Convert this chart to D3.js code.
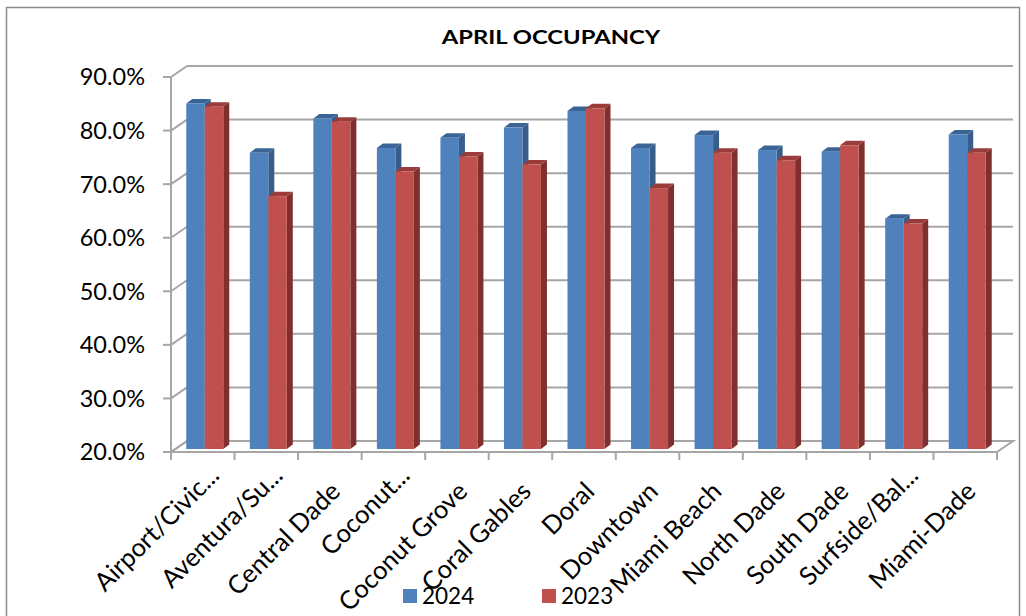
<!DOCTYPE html>
<html>
<head>
<meta charset="utf-8">
<script src="https://cdn.jsdelivr.net/npm/d3@7"></script>
<style>
  body { margin: 0; background: #fff; }
  svg text { font-family: Lato, "Liberation Sans", sans-serif; fill: #000; }
</style>
</head>
<body>
<div id="chart"></div>
<script>
// data
const categories = ["Airport/Civic...", "Aventura/Su...", "Central Dade", "Coconut...", "Coconut Grove",
  "Coral Gables", "Doral", "Downtown", "Miami Beach", "North Dade", "South Dade", "Surfside/Bal...", "Miami-Dade"];
const occ2024 = [84.5, 75.3, 81.7, 76.2, 78.1, 80.0, 83.1, 76.2, 78.6, 75.8, 75.5, 63.0, 78.7];
const occ2023 = [83.9, 67.2, 81.1, 71.8, 74.6, 73.1, 83.6, 68.7, 75.3, 73.9, 76.7, 62.1, 75.3];
const yTicks = [20, 30, 40, 50, 60, 70, 80, 90];
const seriesNames = ["2024", "2023"];

const W = 1026, H = 616;
const svg = d3.select("#chart").append("svg").attr("width", W).attr("height", H);

// outer border
svg.append("rect").attr("x", 6.5).attr("y", 7.5).attr("width", 1013).attr("height", 620)
  .attr("fill", "#fff").attr("stroke", "#8c8c8c").attr("stroke-width", 1.5);

// front plane of plot
const x0 = 171, x1 = 997, yTop = 77, yBot = 452;
const depth = { dx: 16, dy: -11 };     // wall depth
const barOff = { dx: 4, dy: -3 };      // bar front plane
const barDepth = { dx: 6, dy: -4.5 };  // bar thickness

const xScale = d3.scaleBand().domain(categories).range([x0, x1]);
const yScale = d3.scaleLinear().domain([20, 90]).range([yBot, yTop]);

const grid = "#a6a6a6";

// back wall gridlines + side wall diagonals
yTicks.forEach(t => {
  const y = yScale(t);
  svg.append("line").attr("x1", x0 + depth.dx).attr("x2", x1 + depth.dx)
    .attr("y1", y + depth.dy).attr("y2", y + depth.dy)
    .attr("stroke", grid).attr("stroke-width", 2);
  svg.append("line").attr("x1", x0).attr("y1", y).attr("x2", x0 + depth.dx).attr("y2", y + depth.dy)
    .attr("stroke", grid).attr("stroke-width", 2);
});

// floor
svg.append("path")
  .attr("d", `M${x0},${yBot} L${x0 + depth.dx},${yBot + depth.dy} L${x1 + depth.dx},${yBot + depth.dy} L${x1},${yBot} Z`)
  .attr("fill", "none").attr("stroke", grid).attr("stroke-width", 2);

// y axis
svg.append("line").attr("x1", x0).attr("x2", x0).attr("y1", yTop).attr("y2", yBot)
  .attr("stroke", grid).attr("stroke-width", 2);
yTicks.forEach(t => {
  const y = yScale(t);
  svg.append("line").attr("x1", x0 - 8).attr("x2", x0).attr("y1", y).attr("y2", y)
    .attr("stroke", grid).attr("stroke-width", 2);
  svg.append("text").attr("x", 145).attr("y", y).attr("dy", "0.36em")
    .attr("text-anchor", "end").style("font-size", "23.5px").text(t.toFixed(1) + "%");
});

// x ticks
const step = xScale.step();
d3.range(categories.length + 1).forEach(i => {
  const x = x0 + i * step;
  svg.append("line").attr("x1", x).attr("x2", x).attr("y1", yBot).attr("y2", yBot + 8)
    .attr("stroke", grid).attr("stroke-width", 2);
});

// bars
const colors = [
  { front: "#4f81bd", top: "#3b6496", side: "#385d8a" },
  { front: "#c0504d", top: "#9a3d3a", side: "#7f302e" }
];
const barW = 18.5;
const series = [occ2024, occ2023];
categories.forEach((c, i) => {
  const cx = xScale(c) + xScale.bandwidth() / 2 + barOff.dx;
  series.forEach((vals, s) => {
    const bx = cx - barW + s * barW - 2;
    const yb = yBot + barOff.dy;
    const yt = yScale(vals[i]) + barOff.dy;
    const col = colors[s];
    const g = svg.append("g");
    g.append("path")
      .attr("d", `M${bx + barW},${yt} L${bx + barW + barDepth.dx},${yt + barDepth.dy} L${bx + barW + barDepth.dx},${yb + barDepth.dy} L${bx + barW},${yb} Z`)
      .attr("fill", col.side);
    g.append("path")
      .attr("d", `M${bx},${yt} L${bx + barDepth.dx},${yt + barDepth.dy} L${bx + barW + barDepth.dx},${yt + barDepth.dy} L${bx + barW},${yt} Z`)
      .attr("fill", col.top);
    g.append("rect").attr("x", bx).attr("y", yt).attr("width", barW).attr("height", yb - yt)
      .attr("fill", col.front);
  });
});

// x labels (truncated ones sit a little further along, like in Excel)
categories.forEach(c => {
  const cx = xScale(c) + xScale.bandwidth() / 2;
  const cut = c.endsWith("...");
  const ax = cx + (cut ? 18 : 12);
  const ay = yBot + (cut ? 25 : 41);
  svg.append("text")
    .attr("transform", `translate(${ax},${ay}) rotate(-45)`)
    .attr("text-anchor", "end")
    .style("font-size", "25.5px")
    .text(c);
});

// title (slightly stretched horizontally like the source)
svg.append("text").attr("transform", "translate(551,44) scale(1.22,1)").attr("text-anchor", "middle")
  .style("font-size", "19.5px").style("font-weight", "bold").text("APRIL OCCUPANCY");

// legend
const legendX = [403, 542];
seriesNames.forEach((n, s) => {
  svg.append("rect").attr("x", legendX[s]).attr("y", 589).attr("width", 14).attr("height", 14)
    .attr("fill", colors[s].front);
  svg.append("text").attr("x", legendX[s] + 19).attr("y", 604).style("font-size", "22.5px").text(n);
});
</script>
</body>
</html>
